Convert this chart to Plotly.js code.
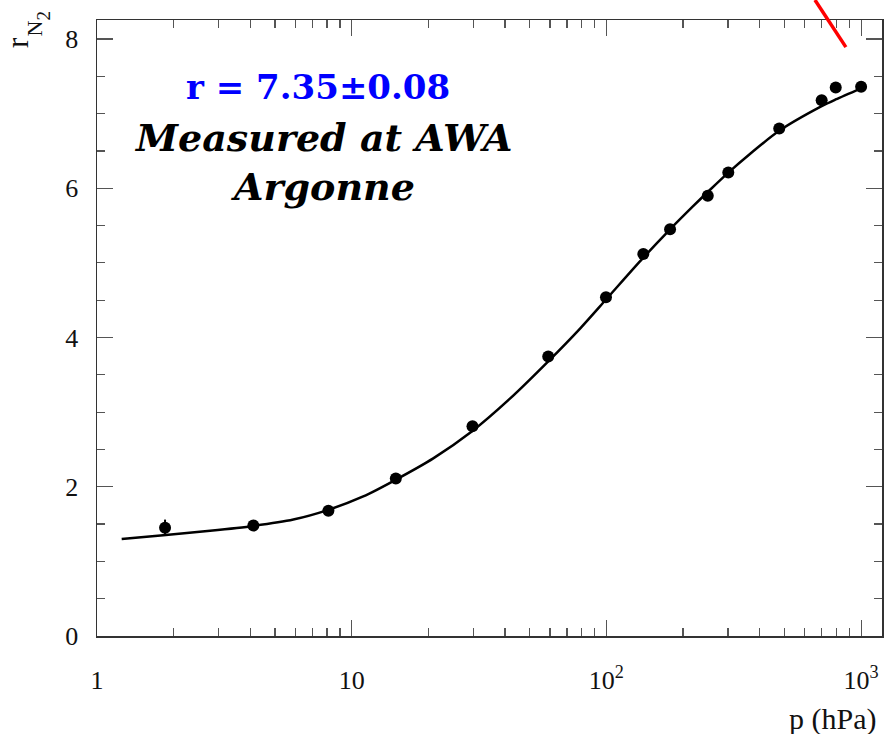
<!DOCTYPE html>
<html>
<head>
<meta charset="utf-8">
<script src="https://cdn.plot.ly/plotly-3.0.1.min.js"></script>
<style>html,body{margin:0;padding:0;background:#fff;}#chart{width:892px;height:734px;}</style>
</head>
<body>
<div id="chart"></div>
<script>
// Measured points
var pressure = [1.85, 4.11, 8.10, 14.9, 29.8, 59.1, 99.6, 139.6, 177.8, 250, 301, 477, 700, 795, 1000];
var ratio    = [1.45, 1.48, 1.68, 2.11, 2.81, 3.745, 4.54, 5.12, 5.45, 5.90, 6.21, 6.80, 7.18, 7.35, 7.36];
var ratioErr = [0.11, 0, 0, 0, 0, 0, 0, 0, 0, 0, 0, 0, 0, 0, 0];
// Fit curve
var fitP = [1.25, 1.82, 2.78, 4.11, 5.90, 8.09, 11.1, 15.0, 20.9, 29.6, 41.8, 59.1, 78.8, 100.3, 139.6, 177.8, 219, 250, 301, 366, 477, 700, 794, 1000];
var fitR = [1.30, 1.35, 1.41, 1.475, 1.56, 1.69, 1.87, 2.10, 2.38, 2.74, 3.18, 3.68, 4.12, 4.52, 5.07, 5.45, 5.76, 5.95, 6.21, 6.46, 6.77, 7.10, 7.19, 7.34];
// Tick labels
var xTickVals = [1, 10, 100, 1000];
var xTickText = ["1", "10", "10<sup>2</sup>", "10<sup>3</sup>"];
var yTickVals = [0, 2, 4, 6, 8];
var yTickText = ["0", "2", "4", "6", "8"];

var serif = "Liberation Serif";
var axisCommon = {
  showgrid: false, zeroline: false, showline: true, linecolor: '#333', linewidth: 1.5,
  ticks: 'inside', tickcolor: '#555', tickwidth: 1.2, mirror: 'allticks',
  tickfont: {family: serif, size: 26, color: '#111'}
};

var traces = [
  {x: fitP, y: fitR, type: 'scatter', mode: 'lines', line: {color: '#000', width: 2.5, shape: 'spline', smoothing: 0.8}, hoverinfo: 'skip'},
  {x: pressure, y: ratio, type: 'scatter', mode: 'markers',
   marker: {color: '#000', size: 12},
   error_y: {type: 'data', array: ratioErr, visible: true, color: '#000', thickness: 2, width: 0}}
];

function ann(x, y, text, size, extra) {
  return Object.assign({xref: 'paper', yref: 'paper', x: x, y: y, xanchor: 'center', yanchor: 'middle',
    showarrow: false, text: text, font: {family: serif, size: size, color: '#111'}}, extra || {});
}

var layout = {
  width: 892, height: 734,
  margin: {l: 97, r: 10, t: 20, b: 98},
  paper_bgcolor: '#fff', plot_bgcolor: '#fff',
  showlegend: false,
  xaxis: Object.assign({}, axisCommon, {
    type: 'log', range: [0, 3.082], tickmode: 'array', tickvals: xTickVals, ticktext: xTickText,
    ticklen: 16, ticklabelstandoff: 20,
    minor: {ticks: 'inside', ticklen: 8, tickcolor: '#555', tickwidth: 1.2, dtick: 'D1', showgrid: false}
  }),
  yaxis: Object.assign({}, axisCommon, {
    range: [0, 8.255], tickmode: 'array', tickvals: yTickVals, ticktext: yTickText,
    ticklen: 16, ticklabelstandoff: 12,
    minor: {ticks: 'inside', ticklen: 8, tickcolor: '#555', tickwidth: 1.2, dtick: 0.5, showgrid: false}
  }),
  annotations: [
    ann(0.282, 0.892, '<b>r = 7.35±0.08</b>', 34, {font: {family: 'DejaVu Serif', size: 34, color: '#0000ff'}}),
    ann(0.288, 0.810, '<b><i>Measured at AWA</i></b>', 38, {font: {family: 'DejaVu Serif', size: 38, color: '#000'}}),
    ann(0.288, 0.729, '<b><i>Argonne</i></b>', 38, {font: {family: 'DejaVu Serif', size: 38, color: '#000'}}),
    ann(0.995, -0.104, 'p (hPa)', 30, {xanchor: 'right', yanchor: 'top'}),
    ann(-0.1013, 0.9635, 'r', 31, {textangle: -90}),
    ann(-0.079, 0.9862, 'N', 22, {textangle: -90}),
    ann(-0.0682, 1.0081, '2', 19, {textangle: -90})
  ],
  shapes: [
    {type: 'line', xref: 'paper', yref: 'paper', x0: 0.9146, y0: 1.0325, x1: 0.954, y1: 0.956,
     line: {color: '#ff0000', width: 3.5}}
  ]
};

Plotly.newPlot('chart', traces, layout, {displayModeBar: false, staticPlot: true});
</script>
</body>
</html>
